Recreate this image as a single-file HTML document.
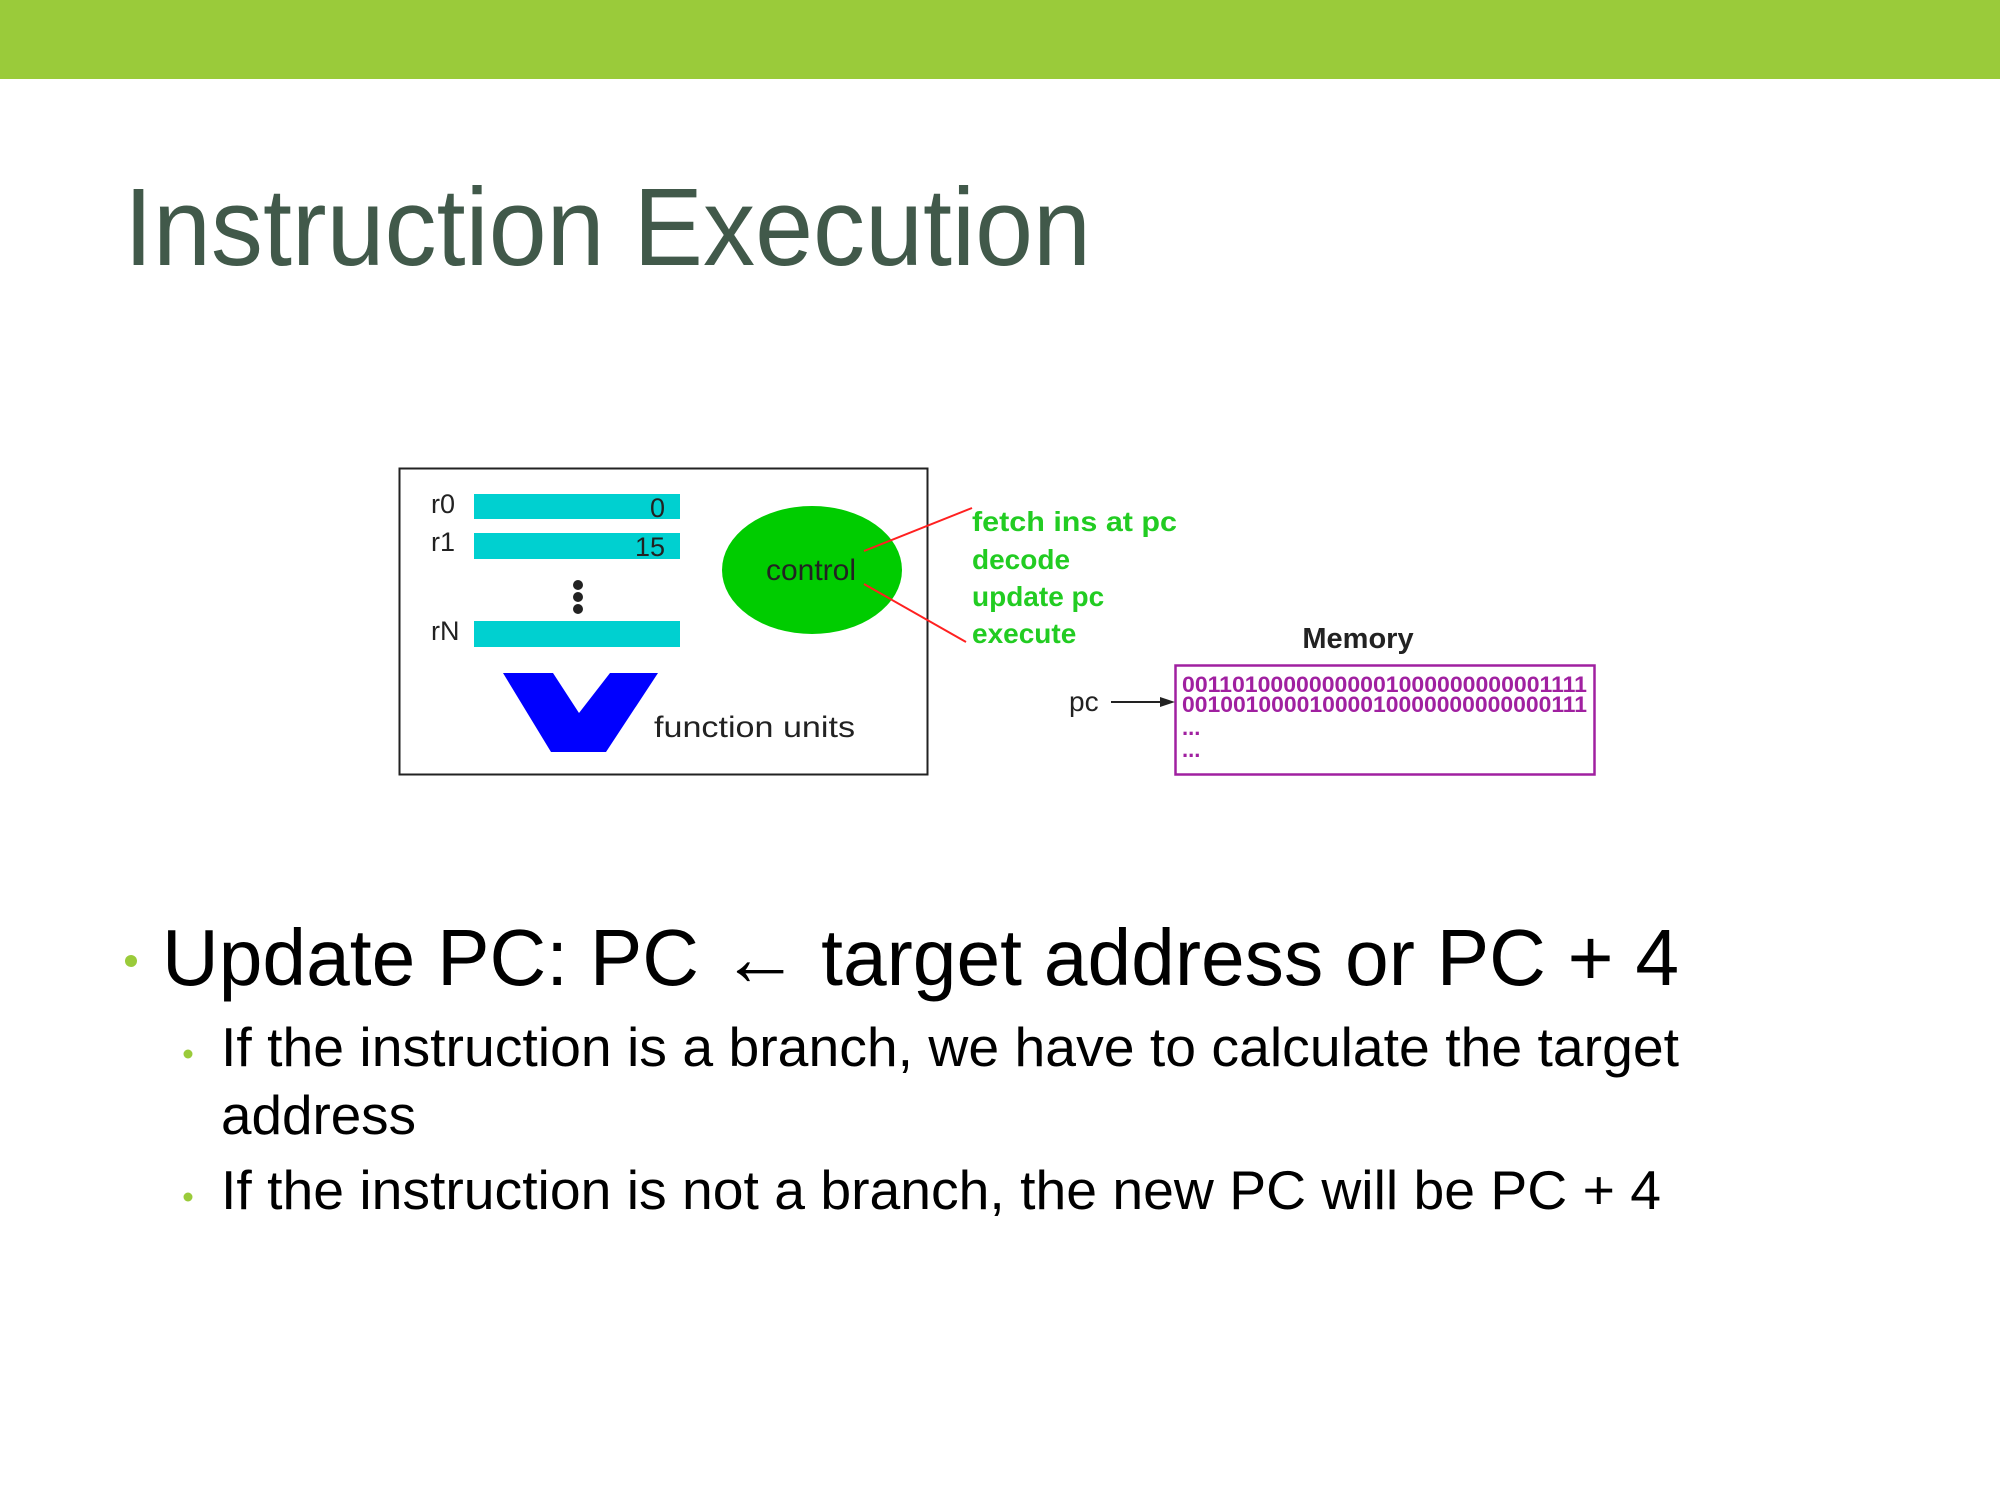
<!DOCTYPE html>
<html><head><meta charset="utf-8"><style>
html,body{margin:0;padding:0;background:#fff;width:2000px;height:1500px;overflow:hidden}
svg{display:block}
text{font-family:"Liberation Sans",Arial,sans-serif}
</style></head><body>
<svg width="2000" height="1500" viewBox="0 0 2000 1500" xmlns="http://www.w3.org/2000/svg">
<rect x="0" y="0" width="2000" height="79" fill="#9acb3a"/>
<text x="124" y="265" font-size="110" fill="#41594a" textLength="967" lengthAdjust="spacingAndGlyphs">Instruction Execution</text>

<!-- diagram box -->
<rect x="399.5" y="468.5" width="528" height="306" fill="none" stroke="#222" stroke-width="2"/>
<text x="431" y="513" font-size="27" fill="#222">r0</text>
<text x="431" y="551" font-size="27" fill="#222">r1</text>
<text x="431" y="640" font-size="27" fill="#222">rN</text>
<rect x="474" y="494" width="206" height="25" fill="#00d0d0"/>
<rect x="474" y="533" width="206" height="26" fill="#00d0d0"/>
<rect x="474" y="621" width="206" height="26" fill="#00d0d0"/>
<text x="665" y="517" font-size="27" fill="#222" text-anchor="end">0</text>
<text x="665" y="556" font-size="27" fill="#222" text-anchor="end">15</text>
<circle cx="578" cy="585" r="5" fill="#222"/>
<circle cx="578" cy="597" r="5" fill="#222"/>
<circle cx="578" cy="609" r="5" fill="#222"/>
<polygon points="503,673 553,673 579,713 610,673 658,673 606,752 551,752" fill="#0000ff"/>
<text x="654" y="737" font-size="30" fill="#222" textLength="201" lengthAdjust="spacingAndGlyphs">function units</text>
<ellipse cx="812" cy="570" rx="90" ry="64" fill="#00cc00"/>
<text x="811" y="580" font-size="30" fill="#222" text-anchor="middle">control</text>
<line x1="864" y1="551" x2="972" y2="508" stroke="#ff2020" stroke-width="2"/>
<line x1="864" y1="584" x2="966" y2="642" stroke="#ff2020" stroke-width="2"/>
<g font-size="28" fill="#22cc22" font-weight="bold">
<text x="972" y="531" textLength="205" lengthAdjust="spacingAndGlyphs">fetch ins at pc</text>
<text x="972" y="569">decode</text>
<text x="972" y="606">update pc</text>
<text x="972" y="643">execute</text>
</g>
<text x="1358" y="648" font-size="29" fill="#222" font-weight="bold" text-anchor="middle">Memory</text>
<rect x="1175.5" y="665.5" width="419" height="109" fill="none" stroke="#a020a0" stroke-width="2.5"/>
<g font-size="22" fill="#a020a0" font-weight="bold">
<text x="1182" y="692" textLength="405" lengthAdjust="spacingAndGlyphs">00110100000000001000000000001111</text>
<text x="1182" y="712" textLength="405" lengthAdjust="spacingAndGlyphs">00100100001000010000000000000111</text>
<text x="1182" y="735">...</text>
<text x="1182" y="757">...</text>
</g>
<text x="1069" y="711" font-size="28" fill="#222">pc</text>
<line x1="1111" y1="702" x2="1162" y2="702" stroke="#222" stroke-width="2"/>
<polygon points="1175,702 1160,697 1160,707" fill="#222"/>

<!-- bullets -->
<circle cx="131" cy="961" r="6" fill="#9acb3a"/>
<text x="162" y="985" font-size="80" fill="#000" textLength="1517" lengthAdjust="spacingAndGlyphs">Update PC:  PC ← target address or PC + 4</text>
<circle cx="188" cy="1054" r="4.5" fill="#9acb3a"/>
<text x="221" y="1066" font-size="55" fill="#000" textLength="1458" lengthAdjust="spacingAndGlyphs">If the instruction is a branch, we have to calculate the target</text>
<text x="221" y="1134" font-size="55" fill="#000" textLength="195" lengthAdjust="spacingAndGlyphs">address</text>
<circle cx="188" cy="1197" r="4.5" fill="#9acb3a"/>
<text x="221" y="1209" font-size="55" fill="#000" textLength="1440" lengthAdjust="spacingAndGlyphs">If the instruction is not a branch, the new PC will be PC + 4</text>
</svg>
</body></html>
